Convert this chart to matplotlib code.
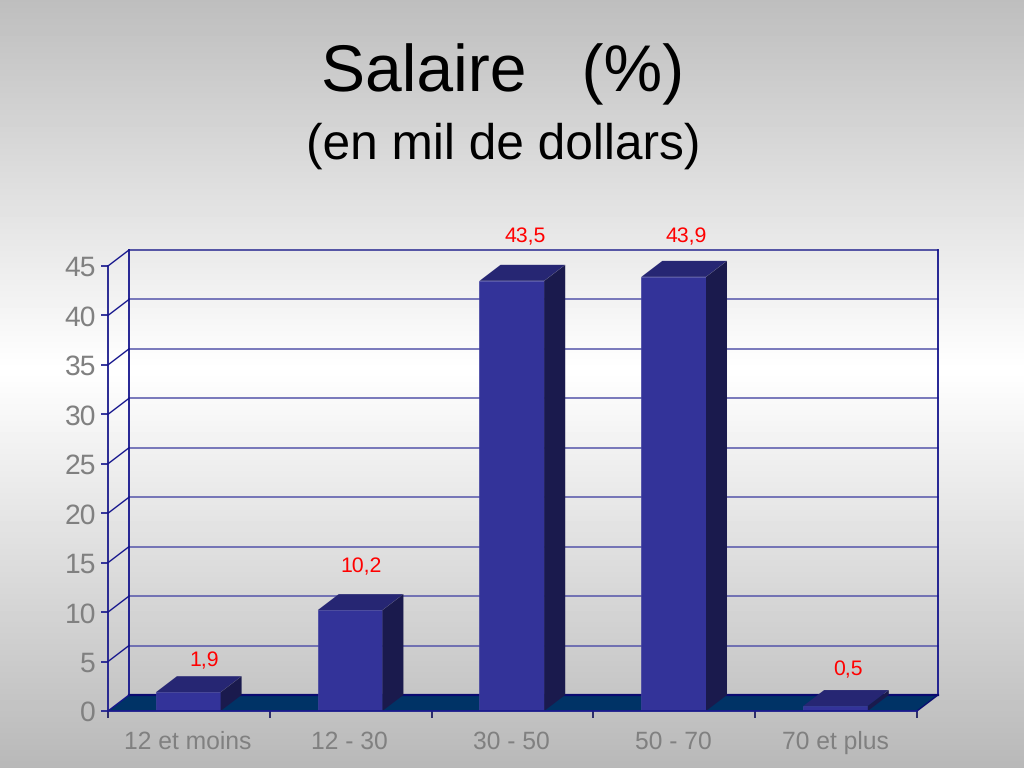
import matplotlib
matplotlib.use("Agg")
import matplotlib.pyplot as plt
import numpy as np

plt.rcParams['font.family'] = ['Liberation Sans', 'DejaVu Sans']
plt.rcParams['text.hinting'] = 'none'
plt.rcParams['text.kerning_factor'] = 0

categories = ["12 et moins", "12 - 30", "30 - 50", "50 - 70", "70 et plus"]
values = [1.9, 10.2, 43.5, 43.9, 0.5]
value_labels = ["1,9", "10,2", "43,5", "43,9", "0,5"]
y_ticks = [0, 5, 10, 15, 20, 25, 30, 35, 40, 45]

# pixel offsets of the labels from the top of each bar
label_dx = [15, 10, 13, 12, 12]
label_dy = [31, 43, 44, 40, 36]

W, H = 1024, 768
fig = plt.figure(figsize=(W / 100, H / 100), dpi=100)

# fond degrade
bg = fig.add_axes([0, 0, 1, 1])
bg.axis("off")
grad = np.interp(np.arange(H), [0, 370, 768], [190, 255, 184]) / 255
bg.imshow(grad[:, None], cmap="gray", vmin=0, vmax=1, aspect="auto", zorder=0)

fig.text(503 / W, 1 - 74 / H, "Salaire   (%)", fontsize=47.5, ha="center", va="center", color="black")
fig.text(503 / W, 1 - 146 / H, "(en mil de dollars)", fontsize=35.7, ha="center", va="center", color="black")

# plan avant du graphique
left, right, top, bottom = 108, 917, 266, 711
ax = fig.add_axes([left / W, 1 - bottom / H, (right - left) / W, (bottom - top) / H])
ax.patch.set_alpha(0)
ax.set_xlim(0, 5)
ax.set_ylim(0, 45)
for s in ["top", "right"]:
    ax.spines[s].set_visible(False)
for s in ["left", "bottom"]:
    ax.spines[s].set_color("#1a1a8c")
    ax.spines[s].set_linewidth(1.3)
    ax.spines[s].set_zorder(6)

# profondeur en unites de donnees
dx = 21 / ((right - left) / 5)
dy = 16 / ((bottom - top) / 45)

navy = "#14148c"
grid = "#5555aa"

# sol
ax.fill([0, 5, 5 + dx, dx], [0, 0, dy, dy], color="#003366", zorder=1, clip_on=False, lw=0)
ax.plot([dx, 5 + dx], [dy, dy], color="#0a0a70", lw=1.6, zorder=2, clip_on=False)
ax.plot([5, 5 + dx], [0, dy], color="#0a0a70", lw=1, zorder=2, clip_on=False)

# murs et grille
for t in y_ticks:
    if t > 0:
        ax.plot([dx, 5 + dx], [t + dy, t + dy], color=grid if t < 45 else "#2a2a90", lw=1.1, zorder=1, clip_on=False)
        ax.plot([0, dx], [t, t + dy], color=navy, lw=1, zorder=1, clip_on=False)
ax.plot([0, dx], [0, dy], color=navy, lw=1, zorder=2, clip_on=False)
ax.plot([dx, dx], [dy, 45 + dy], color=navy, lw=1.3, zorder=1, clip_on=False)
ax.plot([5 + dx, 5 + dx], [dy, 45 + dy], color=navy, lw=1.3, zorder=1, clip_on=False)

# barres
xs = np.arange(5) + 0.5
w = 0.4
bar_x = xs - 0.004
ax.bar(bar_x, values, width=w, color="#333399", edgecolor="#4040a0", linewidth=0.5, zorder=4)
for x, v in zip(bar_x, values):
    l, r = x - w / 2, x + w / 2
    ax.fill([l, r, r + dx, l + dx], [v, v, v + dy, v + dy], color="#262673", lw=0, zorder=4, clip_on=False)
    ax.fill([r, r + dx, r + dx, r], [0, dy, v + dy, v], color="#1a1a4d", lw=0, zorder=4, clip_on=False)

for x, v, lab, ox, oy in zip(xs, values, value_labels, label_dx, label_dy):
    ax.annotate(lab, xy=(x, v), xytext=(ox * 0.72, oy * 0.72), textcoords="offset points",
                ha="center", va="center", color="#ff0000", fontsize=15.3, zorder=7, annotation_clip=False)

ax.set_yticks(y_ticks)
ax.tick_params(axis="y", length=5, width=1.2, color=navy, labelcolor="#808080", labelsize=20.3, pad=3.6)
ax.set_xticks(np.arange(6))
ax.set_xticklabels([])
ax.tick_params(axis="x", length=5, width=1.2, color="#10105a")
for x, c in zip(xs, categories):
    ax.annotate(c, xy=(x, 0), xytext=(-0.7, -22.5), textcoords="offset points",
                ha="center", va="center", color="#808080", fontsize=17.7, annotation_clip=False)

fig.savefig("out.png", dpi=100)
